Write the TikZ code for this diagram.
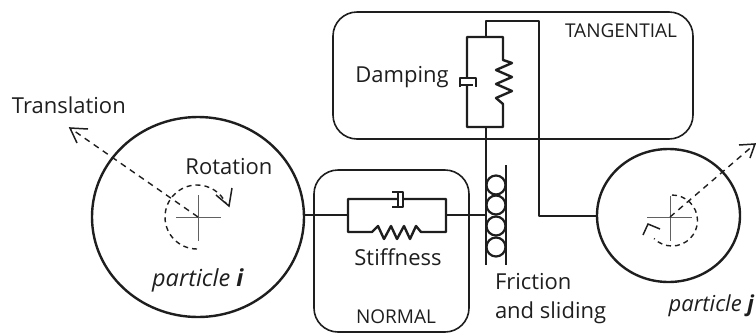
\documentclass[tikz,border=0pt]{standalone}
\usepackage{fontspec}
\setmainfont{Open Sans}
\usetikzlibrary{shapes.geometric}
\definecolor{ink}{HTML}{1E1E1E}
\tikzset{
  particle/.style={draw=ink,ellipse,line width=2.4pt,inner sep=0pt,outer sep=0pt},
  groupbox/.style={draw=ink,rounded corners=24pt,line width=1.6pt,inner sep=0pt,outer sep=0pt},
  roller/.style={draw=ink,circle,line width=2.2pt,minimum size=19pt,inner sep=0pt,outer sep=0pt},
  link/.style={draw=ink,line width=2.4pt,line join=round},
  motion/.style={draw=ink,line width=1.4pt,dash pattern=on 6pt off 5pt},
  rotmotion/.style={draw=ink,line width=1.4pt,dash pattern=on 5pt off 4pt},
  barb/.style={draw=ink,line width=1.5pt,line join=miter},
  crossline/.style={draw=ink!70,line width=1pt},
  lbl/.style={text=ink,font=\fontsize{22}{26}\selectfont,inner sep=0pt,outer sep=0pt},
  italbl/.style={text=ink,font=\fontsize{23.5}{26}\selectfont,inner sep=0pt,outer sep=0pt},
  italblj/.style={text=ink,font=\fontsize{22}{26}\selectfont,inner sep=0pt,outer sep=0pt},
  smalllbl/.style={text=ink,font=\fontsize{19}{22}\selectfont,inner sep=0pt,outer sep=0pt}
}
\begin{document}
\begin{tikzpicture}[x=1pt,y=-1pt]
\useasboundingbox (0,0) rectangle (756,333);
% group boxes
\node[groupbox,minimum width=360pt,minimum height=127pt] (tang) at (513,75.5) {};
\node[groupbox,minimum width=155pt,minimum height=162pt] (norm) at (391.5,251) {};
% particles
\node[particle,minimum width=212pt,minimum height=200pt] (pi) at (198,217) {};
\node[particle,minimum width=143pt,minimum height=133pt] (pj) at (668.5,215.5) {};
% crosses
\coordinate (ci) at (198,217);
\coordinate (cj) at (670,217);
\draw[crossline] (176,217) -- (221,217) (198,195) -- (198,241);
\draw[crossline] (647,217) -- (692,217) (670,196) -- (670,241);
% translation arrows
\coordinate (ti) at (70,128);
\coordinate (tj) at (755,144);
\draw[motion] (ci) -- (ti);
\draw[motion] (cj) -- (tj);
\draw[barb] (88,129) -- (ti) -- (77,143);
\draw[barb] (739,145) -- (tj) -- (750,158);
% rotation arrows
\draw[rotmotion] (197,249) arc[start angle=90,end angle=335,radius=32];
\draw[barb] (232,188) -- (229,206) -- (216,195);
\draw[rotmotion] (672,195) arc[start angle=-90,end angle=135,radius=25.5];
\draw[barb] (643,235) -- (648,224) -- (660,229);
% rollers
\node[roller] (r1) at (496,185) {};
\node[roller] (r2) at (496,205) {};
\node[roller] (r3) at (496,226) {};
\node[roller] (r4) at (496,247) {};
% walls
\coordinate (wallA) at (486,265);
\coordinate (wallBt) at (506,165);
\coordinate (wallBb) at (506,265);
\coordinate (tangT) at (486,127);
\draw[link] (tangT) -- (wallA);
\draw[link] (wallBt) -- (wallBb);
% normal element
\coordinate (na) at (348,215);
\coordinate (nb) at (446,215);
\coordinate (nw) at (486,215);
\draw[link] (na -| pi.east) -- (na);
\draw[link] (nb) -- (nw);
\draw[link] (398,199) -- (348,199) -- (348,232) -- (372,232)
  -- (378,226) -- (384,239) -- (391,226) -- (397,239) -- (404,226) -- (410,239) -- (416,226) -- (421,232)
  -- (446,232) -- (446,199) -- (403,199);
\draw[link] (392,192) -- (403,192) -- (403,207) -- (392,207);
\draw[link] (398,192) -- (398,207);
% tangential element
\coordinate (tt) at (486,37);
\coordinate (ttop) at (486,21);
\coordinate (tr) at (539,21);
\coordinate (tc) at (539,216);
\draw[link] (tt) -- (ttop) -- (tr) -- (tc) -- (tc -| pj.west);
\draw[link] (467,78) -- (467,37) -- (503,37) -- (503,60)
  -- (512,63) -- (496,70) -- (512,77) -- (496,84) -- (512,91) -- (496,98) -- (503,104)
  -- (503,127) -- (467,127) -- (467,86);
\draw[link] (460,87) -- (460,78) -- (476,78) -- (476,87);
\draw[link] (460,85) -- (473,85);
% labels
\node[lbl,anchor=west] (tTrans) at (12,105) {Translation};
\node[lbl] (tRot) at (229,167) {Rotation};
\node[italbl] (tPi) at (198,280) {\textit{particle }\textbf{\textit{i}}};
\node[italblj,anchor=east] (tPj) at (754.5,306) {\textit{particle }\textbf{\textit{j}}};
\node[lbl] (tDamp) at (402,77) {Damping};
\node[lbl] (tStiff) at (398,257) {Stiffness};
\node[smalllbl] (tNorm) at (396,317) {NORMAL};
\node[smalllbl] (tTang) at (621,31) {TANGENTIAL};
\node[lbl,anchor=west] (tFr) at (495,282) {Friction};
\node[lbl,anchor=west] (tSl) at (495,313) {and sliding};
\end{tikzpicture}
\end{document}
